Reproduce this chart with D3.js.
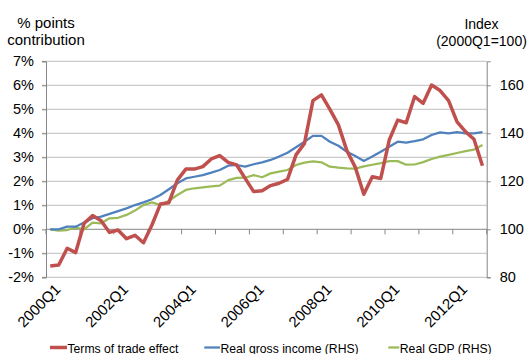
<!DOCTYPE html>
<html>
<head>
<meta charset="utf-8">
<script src="https://cdn.jsdelivr.net/npm/d3@7"></script>
<style>
  html, body { margin: 0; padding: 0; background: #fff; }
  svg { display: block; font-family: "Liberation Sans", Arial, sans-serif; }
</style>
</head>
<body>
<svg id="chart" width="529" height="354"></svg>
<script>
// ---------- DATA ----------
const years = [2000, 2001, 2002, 2003, 2004, 2005, 2006, 2007, 2008, 2009, 2010, 2011, 2012];
const quarters = years.flatMap(y => ["Q1", "Q2", "Q3", "Q4"].map(q => y + q));
const xTickLabels = ["2000Q1", "2002Q1", "2004Q1", "2006Q1", "2008Q1", "2010Q1", "2012Q1"];

const termsOfTrade = [
  -1.53, -1.49, -0.79, -0.97, 0.25, 0.57, 0.36, -0.13,
  -0.03, -0.39, -0.25, -0.56, 0.18, 1.05, 1.11, 2.05,
  2.51, 2.51, 2.61, 2.93, 3.07, 2.79, 2.68, 2.12,
  1.57, 1.61, 1.82, 1.92, 2.08, 3.10, 3.58, 5.36,
  5.60, 5.00, 4.35, 3.28, 2.58, 1.46, 2.19, 2.12,
  3.72, 4.55, 4.44, 5.53, 5.25, 6.01, 5.78, 5.36,
  4.48, 4.07, 3.75, 2.65
];
const realGrossIncome = [
  100.0, 100.0, 101.1, 101.1, 102.8, 104.6, 105.3, 106.4,
  107.6, 108.7, 110.1, 111.2, 112.5, 114.3, 116.7, 119.2,
  121.2, 121.9, 122.6, 123.6, 124.7, 126.5, 126.8, 126.1,
  127.1, 127.9, 128.9, 130.3, 131.9, 134.2, 136.5, 138.9,
  138.9, 136.5, 134.8, 132.3, 130.5, 128.5, 130.3, 132.3,
  134.4, 136.5, 136.1, 136.7, 137.5, 139.3, 140.4, 140.0,
  140.5, 140.0, 140.0, 140.5
];
const realGDP = [
  100.0, 99.4, 99.7, 100.7, 100.0, 102.8, 102.5, 104.6,
  104.8, 106.0, 107.8, 110.1, 111.2, 110.1, 111.9, 114.3,
  116.4, 117.1, 117.5, 117.9, 118.2, 120.5, 121.4, 121.5,
  122.6, 121.7, 123.3, 124.0, 124.7, 126.8, 127.8, 128.3,
  127.9, 126.1, 125.7, 125.4, 125.3, 126.2, 126.9, 127.6,
  128.4, 128.4, 126.9, 127.0, 128.0, 129.3, 130.3, 131.0,
  131.8, 132.6, 133.2, 135.1
];
const leftTicks = [-2, -1, 0, 1, 2, 3, 4, 5, 6, 7];
const rightTicks = [80, 100, 120, 140, 160];
const seriesNames = ["Terms of trade effect", "Real gross income (RHS)", "Real GDP (RHS)"];

// ---------- LAYOUT ----------
const svg = d3.select("#chart");
const L = 46, R = 486.7, T = 61.3, B = 277.3;
const gridColor = "#BEBEBE", axisColor = "#868686";
const cRed = "#C0504D", cBlue = "#4F81BD", cGreen = "#9BBB59";

const x = d3.scaleBand().domain(quarters).range([L, R]).padding(0);
const yL = d3.scaleLinear().domain([-2, 7]).range([B, T]);
const yR = d3.scaleLinear().domain([80, 170]).range([B, T]);
const cx = q => x(q) + x.bandwidth() / 2;

// gridlines
svg.append("g").selectAll("line").data(leftTicks.filter(v => v !== 0)).join("line")
  .attr("x1", L - 4).attr("x2", R).attr("y1", d => yL(d)).attr("y2", d => yL(d))
  .attr("stroke", gridColor).attr("stroke-width", 1);

// left axis
const gLeft = svg.append("g").attr("transform", `translate(${L},0)`)
  .call(d3.axisLeft(yL).tickValues(leftTicks).tickSize(4).tickPadding(8).tickFormat(d => d + "%"));
gLeft.select(".domain").attr("stroke", axisColor);
gLeft.selectAll(".tick line").attr("stroke", axisColor);
gLeft.selectAll(".tick text").attr("font-size", 14.5).attr("fill", "#000")
  .attr("font-family", "Liberation Sans, Arial, sans-serif");

// right axis
const gRight = svg.append("g").attr("transform", `translate(${R},0)`)
  .call(d3.axisRight(yR).tickValues(rightTicks).tickSize(4).tickPadding(9));
gRight.select(".domain").attr("stroke", axisColor);
gRight.selectAll(".tick line").attr("stroke", axisColor);
gRight.selectAll(".tick text").attr("font-size", 14.5).attr("fill", "#000")
  .attr("font-family", "Liberation Sans, Arial, sans-serif");

// category axis at 0%
const y0 = yL(0);
svg.append("line").attr("x1", L).attr("x2", R).attr("y1", y0).attr("y2", y0)
  .attr("stroke", axisColor).attr("stroke-width", 1);
const boundaryTicks = quarters.filter((q, i) => i % 4 === 0).map(q => x(q)).concat([R]);
svg.append("g").selectAll("line").data(boundaryTicks).join("line")
  .attr("x1", d => d).attr("x2", d => d).attr("y1", y0).attr("y2", y0 + 5)
  .attr("stroke", axisColor);

// x labels (rotated)
svg.append("g").selectAll("text").data(xTickLabels).join("text")
  .attr("transform", d => `translate(${cx(d) + 3.5},${B + 5.5}) rotate(-45)`)
  .attr("text-anchor", "end").attr("dy", "0.72em")
  .attr("font-size", 15).attr("fill", "#000").text(d => d);

// lines
const lineL = d3.line().x((d, i) => cx(quarters[i])).y(d => yL(d));
const lineR = d3.line().x((d, i) => cx(quarters[i])).y(d => yR(d));
svg.append("path").datum(realGDP).attr("d", lineR)
  .attr("fill", "none").attr("stroke", cGreen).attr("stroke-width", 2.25).attr("stroke-linejoin", "round");
svg.append("path").datum(realGrossIncome).attr("d", lineR)
  .attr("fill", "none").attr("stroke", cBlue).attr("stroke-width", 2.25).attr("stroke-linejoin", "round");
svg.append("path").datum(termsOfTrade).attr("d", lineL)
  .attr("fill", "none").attr("stroke", cRed).attr("stroke-width", 3.5).attr("stroke-linejoin", "round");

// axis titles
const tl = svg.append("text").attr("text-anchor", "middle").attr("font-size", 15).attr("fill", "#000");
tl.append("tspan").attr("x", 46).attr("y", 27.5).text("% points");
tl.append("tspan").attr("x", 46).attr("y", 44.5).text("contribution");
const tr = svg.append("text").attr("text-anchor", "middle").attr("font-size", 14).attr("fill", "#000");
tr.append("tspan").attr("x", 481.5).attr("y", 29).text("Index");
tr.append("tspan").attr("x", 481.5).attr("y", 46).text("(2000Q1=100)");

// legend
const legend = [
  { name: seriesNames[0], color: cRed, w: 3.5, x0: 50, x1: 67, tx: 67.5 },
  { name: seriesNames[1], color: cBlue, w: 2.25, x0: 204.3, x1: 220, tx: 220.5 },
  { name: seriesNames[2], color: cGreen, w: 2.25, x0: 388.3, x1: 399.3, tx: 399.8 }
];
const lg = svg.append("g").selectAll("g").data(legend).join("g");
lg.append("line").attr("x1", d => d.x0).attr("x2", d => d.x1).attr("y1", 347.5).attr("y2", 347.5)
  .attr("stroke", d => d.color).attr("stroke-width", d => d.w);
lg.append("text").attr("x", d => d.tx).attr("y", 352.5).attr("font-size", 12.2).attr("fill", "#000")
  .text(d => d.name);
</script>
</body>
</html>
